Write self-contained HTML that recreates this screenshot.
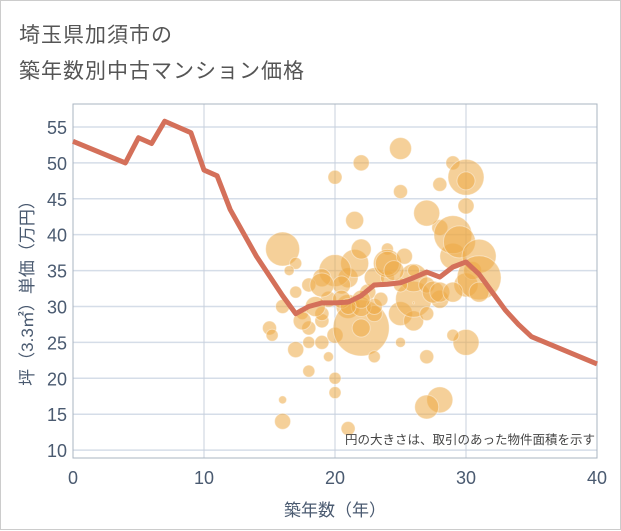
<!DOCTYPE html>
<html><head><meta charset="utf-8"><style>
body{margin:0;background:#fff;font-family:"Liberation Sans","Noto Sans CJK JP",sans-serif}
#wrap{position:relative;width:619px;height:528px;border:1px solid #ccc;background:#fff}
.t{position:absolute;left:18px;color:#555;font-size:21px;letter-spacing:1px}
</style></head><body>
<div id="wrap">
<div class="t" style="top:18px">埼玉県加須市の</div>
<div class="t" style="top:54px">築年数別中古マンション価格</div>
<svg id="svg" width="621" height="530" style="position:absolute;left:0;top:0"></svg>
</div>
<script>
const lineX=[0,4,5,6,7,9,10,11,12,14,16,17,18,19,20,21,22,23,24,25,26,27,28,29,30,31,32,33,34,35,40];
const lineY=[53,50,53.5,52.7,55.8,54.2,49,48.2,43.5,37,31.5,29,30,30.5,30.5,30.6,31.5,33,33.1,33.3,34,34.8,34.1,35.5,36.2,34.5,32,29.5,27.5,25.8,22];
const bubX=[15,15.2,16,17,16,17,17.5,18,16.5,17,18,19,19.5,18,20,20,21,21,21.5,22,22,22.5,20,19,18,19.5,19,20.5,23,23,23,24,24,24,25,25,26,26,26,27,27,27,28,28,28,29,29,29,29.5,30,30,30,30.5,31,31,31,30,29,28,27,26,25,22,22,23,24,25,20,21,22,21.5,27,27.5,28,20,16,16,19,22,26,25.3,30,25,29,19,20.5,21,18.5,24.5,23.5,17.5,22.5];
const bubY=[27,26,38,36,30,32,29,27,35,24,25,25,23,21,26,20,30,34,36,27,38,32,35,34,33,31,28,33,34,29,23,38,34,36,25,29,28,31,34,33,29,23,47,41,31,50,37,40,39,48,44,33,35,37,34,32,25,26,17,16,35,52,27,30,30,36,33,48,13,31,42,43,32,32,18,14,17,29,50,30.5,37,47.5,46,32,33,31,30,30,35,31,28];
const bubR=[7,6,17,6,7,6,6,7,5,8,6,7,5,6,8,6,12,10,14,28,10,8,16,9,7,8,7,9,10,8,6,6,7,14,5,12,10,18,14,8,7,7,7,8,9,7,13,19,16,18,8,12,9,17,22,10,13,6,13,12,6,11,9,10,8,12,7,7,7,9,9,13,11,10,6,8,4,7,8,1,8,9,7,10,12,9,8,10,10,7,9];
const svg=document.getElementById('svg');const NS='http://www.w3.org/2000/svg';
const L=72,R=596,T=103,B=457,x0=0,x1=40,y0=8.9,y1=58.2;
const sx=v=>L+(v-x0)/(x1-x0)*(R-L), sy=v=>B-(v-y0)/(y1-y0)*(B-T);
function mk(t,a,p){const e=document.createElementNS(NS,t);for(const k in a)e.setAttribute(k,a[k]);(p||svg).appendChild(e);return e;}
const yTicks=[10,15,20,25,30,35,40,45,50,55],xTicks=[0,10,20,30,40];
for(const v of yTicks){const g=mk('line',{x1:L,x2:R,y1:sy(v),y2:sy(v),stroke:'#d5dde8','stroke-width':1.5});


const t=mk('text',{x:L-6,y:sy(v)+7,'text-anchor':'end','font-size':18,fill:'#4a5a70'});t.textContent=v;

}
for(const v of xTicks){const g=mk('line',{x1:sx(v),x2:sx(v),y1:T,y2:B,stroke:'#c8d0dc','stroke-width':1});


const t=mk('text',{x:sx(v),y:B+26,'text-anchor':'middle','font-size':18,fill:'#4a5a70'});t.textContent=v;

}
const fr=mk('rect',{x:L,y:T,width:R-L,height:B-T,fill:'none',stroke:'#aab4c0'});


for(let i=0;i<bubX.length;i++){const c=mk('circle',{cx:sx(bubX[i]),cy:sy(bubY[i]),r:bubR[i],fill:'rgba(236,170,70,0.55)',stroke:'rgba(255,255,255,0.4)','stroke-width':1});

}
const p=mk('polyline',{points:lineX.map((x,i)=>sx(x)+','+sy(lineY[i])).join(' '),fill:'none',stroke:'#d4705a','stroke-width':5,'stroke-linejoin':'round'});


const n=mk('text',{x:594,y:443,'text-anchor':'end','font-size':12.5,fill:'#444'});n.textContent='円の大きさは、取引のあった物件面積を示す';


const xt=mk('text',{x:(L+R)/2,y:515,'text-anchor':'middle','font-size':17,fill:'#4a5a70'});xt.textContent='築年数（年）';


const yt=mk('text',{x:0,y:0,'text-anchor':'middle','font-size':17,fill:'#4a5a70',transform:'translate(32,'+((T+B)/2+8)+') rotate(-90)'});yt.textContent='坪（3.3㎡）単価（万円）';


</script>
</body></html>
